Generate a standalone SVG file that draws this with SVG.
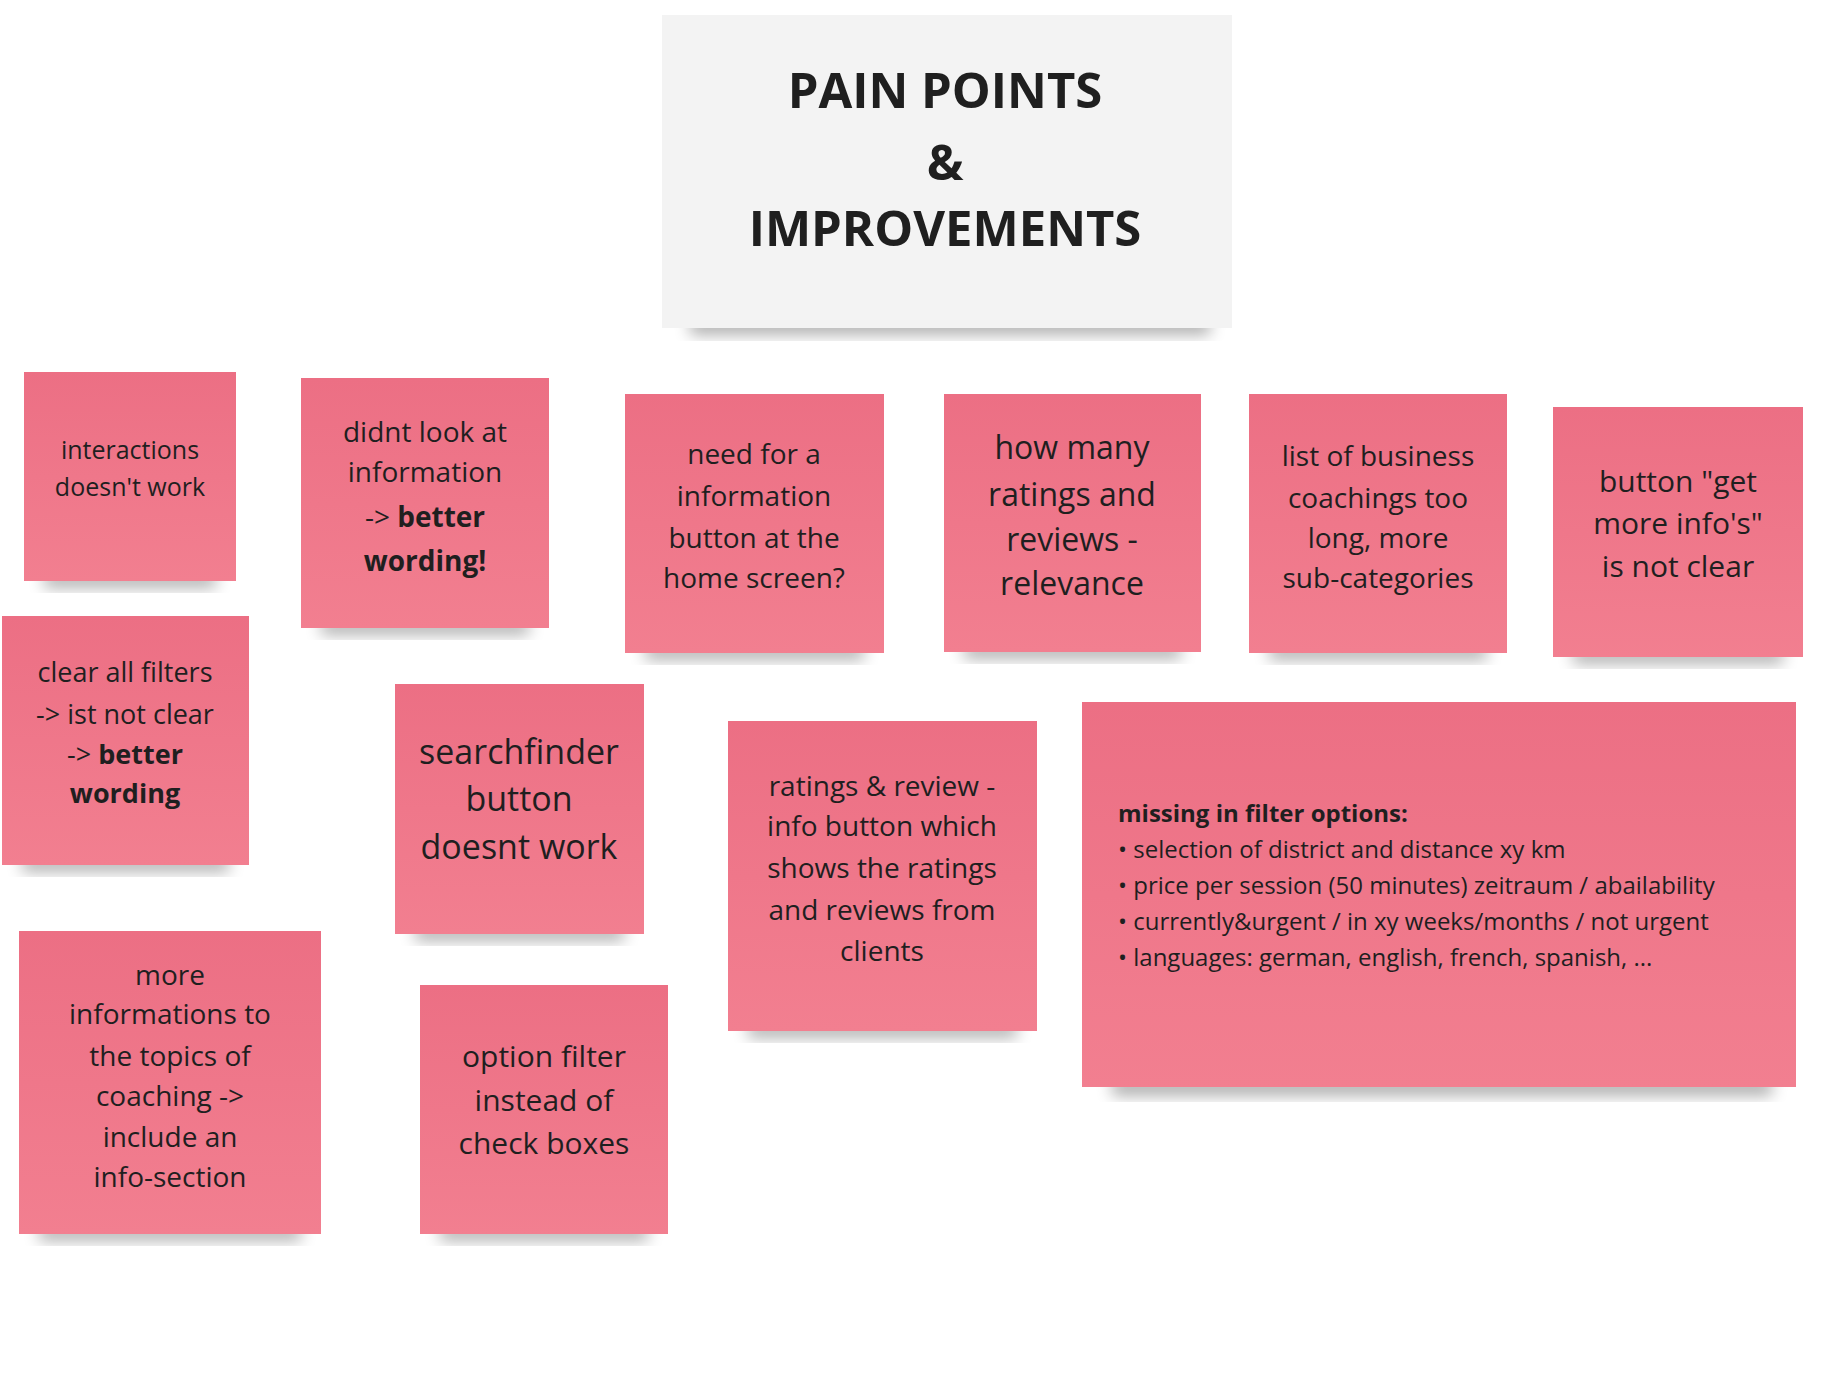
<svg xmlns="http://www.w3.org/2000/svg" width="1823" height="1379" viewBox="0 0 1823 1379">
<defs>
<linearGradient id="pk" x1="0" y1="0" x2="0" y2="1"><stop offset="0" stop-color="#ec6f84"/><stop offset="1" stop-color="#f27f90"/></linearGradient>
<filter id="sh" x="-20%" y="-20%" width="140%" height="160%"><feGaussianBlur stdDeviation="8"/></filter>
<style>
.n{fill:url(#pk)}
.s{fill:#000;opacity:0.35;filter:url(#sh)}
text{font-family:"Open Sans","Noto Sans",sans-serif;fill:#1f1f1f;text-anchor:middle}
.b{font-weight:bold}
</style>
</defs>
<rect width="1823" height="1379" fill="#fff"/>
<g id="title">
<rect class="s" x="690" y="318" width="520" height="16"/>
<rect x="662" y="15" width="570" height="313" fill="#f3f3f3"/>
<text class="b" font-size="49" x="945" y="108">PAIN POINTS</text>
<text class="b" font-size="49" x="945" y="180">&amp;</text>
<text class="b" font-size="49" x="945" y="246">IMPROVEMENTS</text>
</g>
<g id="n1"><rect class="s" x="44" y="573" width="172" height="14"/><rect class="n" x="24" y="372" width="212" height="209"/>
<text font-size="25"><tspan x="130" y="459">interactions</tspan><tspan x="130" y="496">doesn't work</tspan></text></g>
<g id="n2"><rect class="s" x="321" y="620" width="208" height="14"/><rect class="n" x="301" y="378" width="248" height="250"/>
<text font-size="28"><tspan x="425" y="442">didnt look at</tspan><tspan x="425" y="482">information</tspan><tspan x="425" y="527">-&gt; <tspan class="b">better</tspan></tspan><tspan class="b" x="425" y="571">wording!</tspan></text></g>
<g id="n3"><rect class="s" x="645" y="645" width="219" height="14"/><rect class="n" x="625" y="394" width="259" height="259"/>
<text font-size="28"><tspan x="754" y="464">need for a</tspan><tspan x="754" y="506">information</tspan><tspan x="754" y="548">button at the</tspan><tspan x="754" y="588">home screen?</tspan></text></g>
<g id="n4"><rect class="s" x="964" y="644" width="217" height="14"/><rect class="n" x="944" y="394" width="257" height="258"/>
<text font-size="32"><tspan x="1072" y="459">how many</tspan><tspan x="1072" y="506">ratings and</tspan><tspan x="1072" y="551">reviews -</tspan><tspan x="1072" y="595">relevance</tspan></text></g>
<g id="n5"><rect class="s" x="1269" y="645" width="218" height="14"/><rect class="n" x="1249" y="394" width="258" height="259"/>
<text font-size="28"><tspan x="1378" y="466">list of business</tspan><tspan x="1378" y="508">coachings too</tspan><tspan x="1378" y="548">long, more</tspan><tspan x="1378" y="588">sub-categories</tspan></text></g>
<g id="n6"><rect class="s" x="1573" y="649" width="210" height="14"/><rect class="n" x="1553" y="407" width="250" height="250"/>
<text font-size="30"><tspan x="1678" y="492">button "get</tspan><tspan x="1678" y="534">more info's"</tspan><tspan x="1678" y="577">is not clear</tspan></text></g>
<g id="n7"><rect class="s" x="22" y="857" width="207" height="14"/><rect class="n" x="2" y="616" width="247" height="249"/>
<text font-size="27"><tspan x="125" y="682">clear all filters</tspan><tspan x="125" y="724">-&gt; ist not clear</tspan><tspan x="125" y="764">-&gt; <tspan class="b">better</tspan></tspan><tspan class="b" x="125" y="803">wording</tspan></text></g>
<g id="n8"><rect class="s" x="415" y="926" width="209" height="14"/><rect class="n" x="395" y="684" width="249" height="250"/>
<text font-size="34"><tspan x="519" y="764">searchfinder</tspan><tspan x="519" y="811">button</tspan><tspan x="519" y="859">doesnt work</tspan></text></g>
<g id="n9"><rect class="s" x="748" y="1023" width="269" height="14"/><rect class="n" x="728" y="721" width="309" height="310"/>
<text font-size="28"><tspan x="882" y="796">ratings &amp; review -</tspan><tspan x="882" y="836">info button which</tspan><tspan x="882" y="878">shows the ratings</tspan><tspan x="882" y="920">and reviews from</tspan><tspan x="882" y="961">clients</tspan></text></g>
<g id="n10"><rect class="s" x="1112" y="1079" width="660" height="16"/><rect class="n" x="1082" y="702" width="714" height="385"/>
<text font-size="24" style="text-anchor:start"><tspan class="b" x="1118" y="822">missing in filter options:</tspan><tspan x="1118" y="858">• selection of district and distance xy km</tspan><tspan x="1118" y="894">• price per session (50 minutes) zeitraum / abailability</tspan><tspan x="1118" y="930">• currently&amp;urgent / in xy weeks/months / not urgent</tspan><tspan x="1118" y="966">• languages: german, english, french, spanish, ...</tspan></text></g>
<g id="n11"><rect class="s" x="39" y="1226" width="262" height="14"/><rect class="n" x="19" y="931" width="302" height="303"/>
<text font-size="28"><tspan x="170" y="985">more</tspan><tspan x="170" y="1024">informations to</tspan><tspan x="170" y="1066">the topics of</tspan><tspan x="170" y="1106">coaching -&gt;</tspan><tspan x="170" y="1147">include an</tspan><tspan x="170" y="1187">info-section</tspan></text></g>
<g id="n12"><rect class="s" x="440" y="1226" width="208" height="14"/><rect class="n" x="420" y="985" width="248" height="249"/>
<text font-size="30"><tspan x="544" y="1067">option filter</tspan><tspan x="544" y="1111">instead of</tspan><tspan x="544" y="1154">check boxes</tspan></text></g>
<g id="connectors"/>
</svg>
